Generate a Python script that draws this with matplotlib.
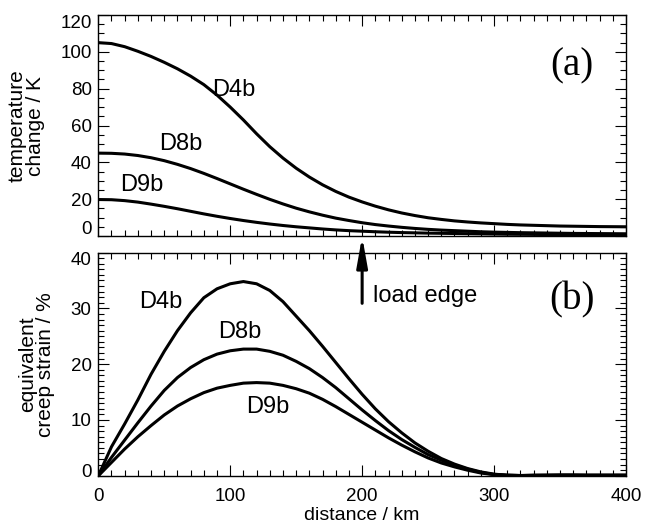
import matplotlib
matplotlib.use("Agg")
import matplotlib.pyplot as plt
from matplotlib.ticker import MultipleLocator
from matplotlib.transforms import ScaledTranslation

plt.rcParams["font.family"] = ["Liberation Sans", "DejaVu Sans"]

# distance / km, common grid for all series
dist = [0, 10, 20, 30, 40, 50, 60, 70, 80, 90, 100, 110, 120, 130, 140, 150, 160,
        170, 180, 190, 200, 210, 220, 230, 240, 250, 260, 270, 280, 290, 300,
        310, 320, 330, 340, 350, 360, 370, 380, 390, 400]

# (a) temperature change / K
temp_d4b = [105, 104.5, 102.8, 100.3, 97.5, 94.3, 90.8, 86.8, 82.2, 76.5, 70, 63,
            55.5, 48.5, 42.3, 36.8, 32, 27.8, 24.2, 21.1, 18.5, 16.2, 14.2, 12.5,
            11.1, 9.9, 9, 8.2, 7.6, 7.1, 6.7, 6.3, 6, 5.8, 5.6, 5.4, 5.3, 5.2, 5.1,
            5.05, 5]
temp_d8b = [45, 44.9, 44.5, 43.7, 42.5, 40.9, 38.9, 36.6, 34, 31.2, 28.3, 25.4,
            22.6, 19.9, 17.4, 15.1, 13.1, 11.3, 9.7, 8.4, 7.2, 6.2, 5.4, 4.7, 4.1,
            3.6, 3.2, 2.9, 2.6, 2.3, 2.1, 1.95, 1.8, 1.7, 1.6, 1.5, 1.4, 1.35, 1.3,
            1.25, 1.2]
temp_d9b = [19.8, 19.7, 19.2, 18.4, 17.3, 16.1, 14.8, 13.4, 12, 10.7, 9.5, 8.4,
            7.4, 6.5, 5.7, 5, 4.4, 3.8, 3.3, 2.9, 2.6, 2.3, 2.05, 1.85, 1.7, 1.55,
            1.45, 1.35, 1.25, 1.15, 1.05, 0.95, 0.9, 0.85, 0.8, 0.75, 0.7, 0.7,
            0.65, 0.6, 0.6]

# (b) equivalent creep strain / %
strain_d4b = [0, 5.2, 9.3, 13.6, 18.2, 22.3, 26, 29.2, 31.9, 33.5, 34.4, 34.8, 34.4,
              33.2, 31.2, 28.6, 26, 23.2, 20.3, 17.4, 14.6, 12, 9.7, 7.7, 5.9, 4.4,
              3.1, 2.1, 1.3, 0.7, 0.3, 0.1, 0.05, 0.1, 0.1, 0.15, 0.15, 0.1, 0.1,
              0.1, 0.1]
strain_d8b = [0, 3.3, 6.4, 9.5, 12.5, 15.3, 17.6, 19.4, 20.8, 21.8, 22.4, 22.7, 22.7,
              22.3, 21.6, 20.5, 19.2, 17.6, 15.8, 13.8, 11.8, 9.9, 8.1, 6.5, 5.1,
              3.8, 2.8, 1.9, 1.2, 0.6, 0.25, 0.1, 0.05, 0.1, 0.1, 0.1, 0.1, 0.1,
              0.1, 0.1, 0.1]
strain_d9b = [0, 2.4, 4.8, 7, 9, 10.9, 12.5, 13.8, 14.9, 15.7, 16.2, 16.6, 16.7,
              16.6, 16.2, 15.6, 14.8, 13.7, 12.4, 11, 9.6, 8.2, 6.8, 5.5, 4.3, 3.2,
              2.3, 1.6, 1, 0.5, 0.2, 0.1, 0.05, 0.05, 0.1, 0.1, 0.1, 0.1, 0.1, 0.1,
              0.1]

fig = plt.figure(figsize=(6.45, 5.25), dpi=100)
ax1 = fig.add_axes([0.1524, 0.5505, 0.8181, 0.4209])
ax2 = fig.add_axes([0.1524, 0.0937, 0.8181, 0.4253])

LW = 2.2
for ax in (ax1, ax2):
    ax.set_xlim(0, 400)
    ax.xaxis.set_major_locator(MultipleLocator(100))
    ax.xaxis.set_minor_locator(MultipleLocator(10))
    ax.tick_params(which="both", direction="in", top=True, right=True,
                   width=0.8, labelsize=13.5)
    ax.tick_params(which="major", length=8)
    ax.tick_params(which="minor", length=4)
    ax.tick_params(axis="y", pad=4.8)
    for s in ax.spines.values():
        s.set_linewidth(1.0)

# top panel
ax1.plot(dist, temp_d4b, color="k", lw=LW)
ax1.plot(dist, temp_d8b, color="k", lw=LW)
ax1.plot(dist, temp_d9b, color="k", lw=LW)
ax1.set_ylim(0, 120)
ax1.yaxis.set_major_locator(MultipleLocator(20))
ax1.yaxis.set_minor_locator(MultipleLocator(5))
ax1.tick_params(axis="x", labelbottom=False)
ax1.set_ylabel("temperature\nchange / K", fontsize=15, linespacing=0.95, va="center")
ax1.yaxis.set_label_coords(-0.136, 0.5)
ax1.text(103, 79.5, "D4b", fontsize=17, ha="center", va="center")
ax1.text(62.5, 50, "D8b", fontsize=17, ha="center", va="center")
ax1.text(33, 27.7, "D9b", fontsize=17, ha="center", va="center")
ax1.text(359, 92.3, "(a)", fontsize=28, family="Liberation Serif",
         ha="center", va="center")

# bottom panel
ax2.plot(dist, strain_d4b, color="k", lw=LW)
ax2.plot(dist, strain_d8b, color="k", lw=LW)
ax2.plot(dist, strain_d9b, color="k", lw=LW)
ax2.set_ylim(0, 40)
ax2.yaxis.set_major_locator(MultipleLocator(10))
ax2.yaxis.set_minor_locator(MultipleLocator(1))
ax2.tick_params(axis="x", pad=9)
ax2.set_xlabel("distance / km", fontsize=14, labelpad=1)
ax2.set_ylabel("equivalent\ncreep strain / %", fontsize=15, linespacing=0.95, va="center")
ax2.yaxis.set_label_coords(-0.117, 0.5)
ax2.text(47.5, 31.2, "D4b", fontsize=17, ha="center", va="center")
ax2.text(107.6, 25.7, "D8b", fontsize=17, ha="center", va="center")
ax2.text(128.5, 12.3, "D9b", fontsize=17, ha="center", va="center")
ax2.text(359, 31.5, "(b)", fontsize=28, family="Liberation Serif",
         ha="center", va="center")

# load edge arrow
ax2.annotate("", xy=(200, 42.9), xytext=(200, 30.9), annotation_clip=False,
             arrowprops=dict(arrowstyle="-|>,head_length=0.9,head_width=0.16",
                             mutation_scale=20, lw=2.2, color="k",
                             shrinkA=0, shrinkB=0))
ax2.text(208.6, 32.3, "load edge", fontsize=17, ha="left", va="center")

# end labels of the y axes are pushed inside the axis range
for ax, down, up in ((ax1, 6.7, 8.3), (ax2, 5.8, 5.8)):
    lo, hi = ax.get_ylim()
    locs = ax.yaxis.get_majorticklocs()
    for tick, loc in zip(ax.yaxis.get_major_ticks(len(locs)), locs):
        lab = tick.label1
        if abs(loc - hi) < 1e-9:
            lab.set_transform(lab.get_transform() +
                              ScaledTranslation(0, -down / 100, fig.dpi_scale_trans))
        elif abs(loc - lo) < 1e-9:
            lab.set_transform(lab.get_transform() +
                              ScaledTranslation(0, up / 100, fig.dpi_scale_trans))

fig.savefig("out.png", dpi=100)
